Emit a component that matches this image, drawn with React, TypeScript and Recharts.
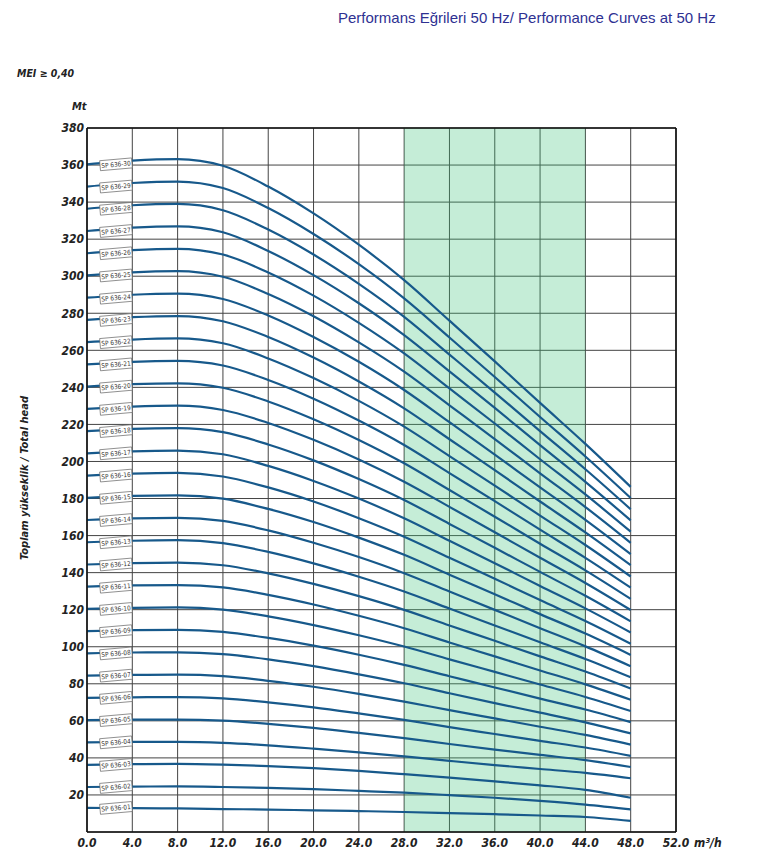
import React from 'react';
import {
  LineChart,
  Line,
  XAxis,
  YAxis,
  CartesianGrid,
  ReferenceArea,
  ReferenceLine,
} from 'recharts';

// debi (m³/h) noktaları
const flow = [0, 4, 8, 12, 16, 20, 24, 28, 32, 36, 40, 44, 48];

// basma yüksekliği (m), her pompa modeli için
const sp01 = [13.0, 12.9, 12.7, 12.4, 12.1, 11.7, 11.3, 10.8, 10.2, 9.6, 8.9, 8.1, 6.0];
const sp02 = [24.3, 24.5, 24.6, 24.3, 23.8, 23.1, 22.2, 21.2, 19.9, 18.5, 16.8, 14.8, 12.2];
const sp03 = [36.2, 36.6, 36.8, 36.4, 35.6, 34.5, 33.0, 31.2, 29.3, 27.3, 25.2, 22.7, 18.5];
const sp04 = [48.4, 48.6, 48.6, 48.1, 46.8, 45.0, 43.0, 40.8, 38.4, 36.1, 34.0, 31.9, 29.0];
const sp05 = [60.4, 60.7, 60.7, 60.1, 58.4, 56.2, 53.5, 50.7, 47.5, 44.5, 41.6, 38.8, 35.1];
const sp06 = [72.4, 72.7, 72.8, 72.1, 70.0, 67.3, 64.0, 60.5, 56.6, 52.9, 49.2, 45.6, 41.1];
const sp07 = [84.4, 84.8, 84.9, 84.1, 81.6, 78.4, 74.6, 70.4, 65.8, 61.3, 56.8, 52.4, 47.2];
const sp08 = [96.4, 96.9, 97.0, 96.0, 93.2, 89.5, 85.1, 80.3, 74.9, 69.6, 64.4, 59.2, 53.2];
const sp09 = [108.4, 108.9, 109.1, 108.0, 104.8, 100.6, 95.7, 90.2, 84.1, 78.0, 72.0, 66.1, 59.3];
const sp10 = [120.4, 121.0, 121.2, 120.0, 116.4, 111.7, 106.2, 100.1, 93.2, 86.4, 79.6, 72.9, 65.3];
const sp11 = [132.4, 133.1, 133.3, 132.0, 128.0, 122.8, 116.7, 110.0, 102.3, 94.8, 87.2, 79.7, 71.4];
const sp12 = [144.4, 145.1, 145.4, 144.0, 139.6, 133.9, 127.3, 119.9, 111.5, 103.2, 94.8, 86.6, 77.4];
const sp13 = [156.4, 157.2, 157.5, 155.9, 151.2, 145.0, 137.8, 129.8, 120.6, 111.5, 102.4, 93.4, 83.5];
const sp14 = [168.4, 169.3, 169.6, 167.9, 162.8, 156.1, 148.4, 139.7, 129.8, 119.9, 110.0, 100.2, 89.5];
const sp15 = [180.4, 181.4, 181.7, 179.9, 174.4, 167.3, 158.9, 149.6, 138.9, 128.3, 117.6, 107.1, 95.6];
const sp16 = [192.4, 193.4, 193.8, 191.9, 186.0, 178.4, 169.4, 159.4, 148.0, 136.7, 125.2, 113.9, 101.6];
const sp17 = [204.4, 205.5, 205.9, 203.9, 197.6, 189.5, 180.0, 169.3, 157.2, 145.1, 132.8, 120.7, 107.7];
const sp18 = [216.4, 217.6, 218.0, 215.8, 209.2, 200.6, 190.5, 179.2, 166.3, 153.4, 140.4, 127.5, 113.7];
const sp19 = [228.4, 229.6, 230.1, 227.8, 220.8, 211.7, 201.1, 189.1, 175.5, 161.8, 148.0, 134.4, 119.8];
const sp20 = [240.4, 241.7, 242.2, 239.8, 232.4, 222.8, 211.6, 199.0, 184.6, 170.2, 155.6, 141.2, 125.8];
const sp21 = [252.4, 253.8, 254.3, 251.8, 244.0, 233.9, 222.1, 208.9, 193.7, 178.6, 163.2, 148.0, 131.9];
const sp22 = [264.4, 265.8, 266.4, 263.8, 255.6, 245.0, 232.7, 218.8, 202.9, 187.0, 170.8, 154.9, 137.9];
const sp23 = [276.4, 277.9, 278.5, 275.7, 267.2, 256.1, 243.2, 228.7, 212.0, 195.3, 178.4, 161.7, 144.0];
const sp24 = [288.4, 290.0, 290.6, 287.7, 278.8, 267.2, 253.8, 238.6, 221.2, 203.7, 186.0, 168.5, 150.0];
const sp25 = [300.4, 302.1, 302.7, 299.7, 290.4, 278.4, 264.3, 248.5, 230.3, 212.1, 193.6, 175.4, 156.1];
const sp26 = [312.4, 314.1, 314.8, 311.7, 302.0, 289.5, 274.8, 258.3, 239.4, 220.5, 201.2, 182.2, 162.1];
const sp27 = [324.4, 326.2, 326.9, 323.7, 313.6, 300.6, 285.4, 268.2, 248.6, 228.9, 208.8, 189.0, 168.2];
const sp28 = [336.4, 338.3, 339.0, 335.6, 325.2, 311.7, 295.9, 278.1, 257.7, 237.2, 216.4, 195.8, 174.2];
const sp29 = [348.4, 350.3, 351.1, 347.6, 336.8, 322.8, 306.5, 288.0, 266.9, 245.6, 224.0, 202.7, 180.3];
const sp30 = [360.4, 362.4, 363.2, 359.6, 348.4, 333.9, 317.0, 297.9, 276.0, 254.0, 231.6, 209.5, 186.3];

const curveNames = [
  'SP 636-01', 'SP 636-02', 'SP 636-03', 'SP 636-04', 'SP 636-05', 'SP 636-06',
  'SP 636-07', 'SP 636-08', 'SP 636-09', 'SP 636-10', 'SP 636-11', 'SP 636-12',
  'SP 636-13', 'SP 636-14', 'SP 636-15', 'SP 636-16', 'SP 636-17', 'SP 636-18',
  'SP 636-19', 'SP 636-20', 'SP 636-21', 'SP 636-22', 'SP 636-23', 'SP 636-24',
  'SP 636-25', 'SP 636-26', 'SP 636-27', 'SP 636-28', 'SP 636-29', 'SP 636-30',
];
const curveValues = [
  sp01, sp02, sp03, sp04, sp05, sp06, sp07, sp08, sp09, sp10,
  sp11, sp12, sp13, sp14, sp15, sp16, sp17, sp18, sp19, sp20,
  sp21, sp22, sp23, sp24, sp25, sp26, sp27, sp28, sp29, sp30,
];

const xTicks = [0, 4, 8, 12, 16, 20, 24, 28, 32, 36, 40, 44, 48, 52];
const yTicks = [20, 40, 60, 80, 100, 120, 140, 160, 180, 200, 220, 240, 260, 280, 300, 320, 340, 360, 380];

const data = flow.map((q, i) => {
  const row: Record<string, number> = { q };
  curveValues.forEach((vals, k) => {
    row[`h${k}`] = vals[i];
  });
  return row;
});

const NARROW = "'Liberation Sans Narrow', 'DejaVu Sans Condensed', 'Liberation Sans', sans-serif";
const LINE_BLUE = '#17598b';

const tickStyle = {
  fill: '#222',
  fontSize: 12,
  fontWeight: 700,
  fontStyle: 'italic',
  fontFamily: NARROW,
};

const renderTag = (p: any, name: string) => {
  if (p.index !== 0) return null;
  return (
    <g transform={`translate(${p.x + 29},${p.y}) rotate(-5)`}>
      <rect x={-16} y={-5} width={32} height={10} fill="#fff" stroke="#666" strokeWidth={0.7} />
      <text x={0} y={2.4} textAnchor="middle" fontSize={6.4} fill="#333" fontFamily={NARROW}>
        {name}
      </text>
    </g>
  );
};

const boldItalic: React.CSSProperties = {
  position: 'absolute',
  fontFamily: NARROW,
  fontWeight: 700,
  fontStyle: 'italic',
  color: '#222',
  whiteSpace: 'nowrap',
};

export default function App() {
  return (
    <div style={{ position: 'absolute', left: 0, top: 0, width: 769, height: 852, background: '#fff' }}>
      <div
        style={{
          position: 'absolute',
          left: 338,
          top: 9,
          fontSize: 15,
          lineHeight: '18px',
          fontFamily: "'Liberation Sans', Arial, sans-serif",
          color: '#2e3192',
          whiteSpace: 'nowrap',
        }}
      >
        Performans Eğrileri 50 Hz/ Performance Curves at 50 Hz
      </div>
      <div style={{ ...boldItalic, left: 17, top: 66, fontSize: 10.5, lineHeight: '14px' }}>MEI ≥ 0,40</div>
      <div style={{ ...boldItalic, left: 72, top: 100, fontSize: 11, lineHeight: '14px' }}>Mt</div>
      <div style={{ ...boldItalic, left: 694, top: 836, fontSize: 12, lineHeight: '14px' }}>m³/h</div>
      <div
        style={{
          ...boldItalic,
          left: 25 - 90,
          top: 478 - 7,
          width: 180,
          textAlign: 'center',
          fontSize: 11,
          lineHeight: '14px',
          transform: 'rotate(-90deg)',
        }}
      >
        Toplam yükseklik / Total head
      </div>

      <LineChart
        width={769}
        height={852}
        data={data}
        margin={{ top: 128, right: 93, left: 47, bottom: 0 }}
        style={{ position: 'absolute', left: 0, top: 0 }}
      >
        <CartesianGrid stroke="#444" strokeWidth={1} />
        <ReferenceArea x1={28} x2={44} y1={0} y2={380} fill="#3ec47a" fillOpacity={0.3} stroke="none" />
        <XAxis
          dataKey="q"
          type="number"
          domain={[0, 52]}
          ticks={xTicks}
          tickFormatter={(v: number) => v.toFixed(1)}
          interval={0}
          height={20}
          tickLine={false}
          tickSize={4}
          tickMargin={2}
          axisLine={{ stroke: '#111', strokeWidth: 1.6 }}
          tick={tickStyle}
        />
        <YAxis
          type="number"
          domain={[0, 380]}
          ticks={yTicks}
          interval={0}
          width={40}
          tickLine={false}
          tickSize={3}
          tickMargin={0}
          axisLine={{ stroke: '#111', strokeWidth: 1.6 }}
          tick={tickStyle}
        />
        <ReferenceLine y={380} stroke="#111" strokeWidth={1.6} />
        <ReferenceLine x={52} stroke="#111" strokeWidth={1.6} />
        {curveValues.map((_, k) => (
          <Line
            key={curveNames[k]}
            dataKey={`h${k}`}
            type="monotone"
            stroke={LINE_BLUE}
            strokeWidth={2.2}
            dot={false}
            activeDot={false}
            isAnimationActive={false}
            label={(p: any) => renderTag(p, curveNames[k])}
          />
        ))}
      </LineChart>
    </div>
  );
}
